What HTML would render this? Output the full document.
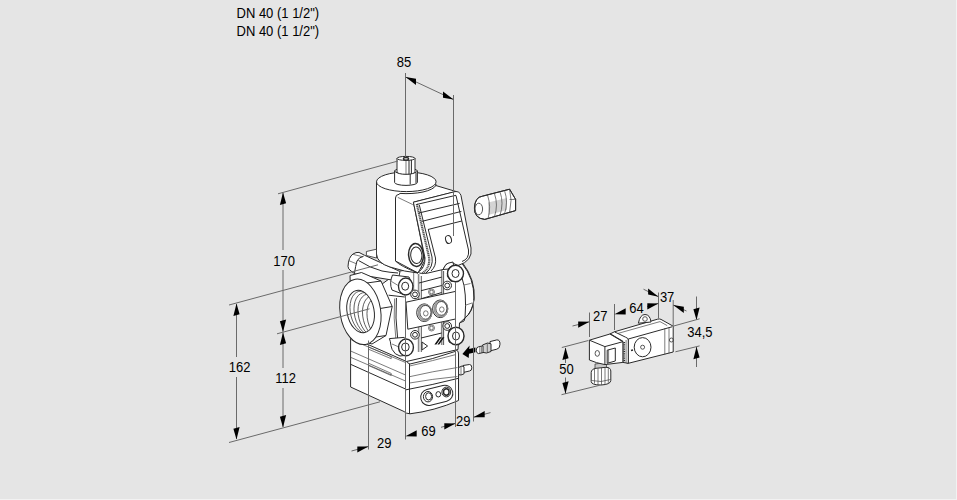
<!DOCTYPE html>
<html><head><meta charset="utf-8">
<style>
html,body{margin:0;padding:0;background:#e5e5e5;width:957px;height:500px;overflow:hidden}
.t{position:absolute;font:13px "Liberation Sans",sans-serif;color:#000;white-space:nowrap;line-height:15px;transform:scaleY(1.1);transform-origin:0 3px}
svg{position:absolute;left:0;top:0}
.d{stroke:#6a6a6a;stroke-width:1;fill:none}
.v{stroke:#2a2a2a;stroke-width:1;fill:#fff;stroke-linejoin:round}
.n{stroke:#2a2a2a;stroke-width:1;fill:none}
.g{stroke:#444;stroke-width:0.7;fill:none}
</style></head><body>
<svg width="957" height="500" viewBox="0 0 957 500">
<g id="valve">
<!-- lower box -->
<path class="v" d="M350.6,339 Q350.6,336.8 353,337 L405.5,359.3 Q430,354.5 454,349.6 Q458.5,349.5 458.5,354 L458.5,400.5 Q434,411 410,413.8 Q405.5,413.5 404,411.5 L350.6,387 Z"/>
<path class="g" d="M351.3,339.8 L405.5,362.5"/>
<path class="n" d="M405.8,359.5 Q407,363.6 410,364 Q432,359.5 455,351.5"/>
<path class="n" d="M409.5,364 L409.5,413.8"/>
<path class="g" d="M409.6,366 Q432,361 456,354.5"/>
<path class="g" d="M409.6,376.7 Q432,371.5 457.5,367.5"/>
<path class="g" d="M409.6,383 Q432,379 457.5,376.5"/>
<path class="n" d="M406,389.8 Q432,385 458.5,378.3"/>
<path class="g" d="M350.6,351 L405.5,375"/>
<path class="g" d="M350.6,357.3 L405.5,381"/>
<path class="n" d="M350.6,364.3 L405.5,389"/>
<path class="g" d="M368,346.8 L391.2,356.6 L391.2,358.7 L368,349 M368,363 L391.2,373.4 L391.2,375.5 L368,365.3"/>
<rect class="v" x="420.5" y="387.2" width="32.6" height="16.2" rx="8" ry="8" transform="rotate(-14 436.8 395.3)"/>
<ellipse class="v" cx="428" cy="396.7" rx="4.6" ry="5.2"/>
<ellipse class="n" cx="428.6" cy="396.4" rx="3" ry="3.6"/>
<ellipse class="n" cx="438.3" cy="394.3" rx="2.4" ry="2.7"/>
<ellipse class="v" cx="446.3" cy="392" rx="4.4" ry="4.9"/>
<ellipse class="n" cx="446.3" cy="392" rx="2.8" ry="3.2" style="stroke-width:1.4"/>
<!-- body block -->
<path class="v" d="M400,271 L462,262 Q476,280 474,300 Q472,312 465,318 L459.5,323 L458,349.5 L406.5,361.5 L351,337 L360,300 Z"/>
<!-- right flange curves -->
<path class="n" d="M462,263.5 Q474,278 474,298 Q473,312 465,318 L464,321 L459.5,323"/>
<path class="n" d="M462,278 Q467,292 465,318"/>
<path class="g" d="M464,285 L470.5,283.5 M466,305 L472,303"/>
<!-- vertical strips -->
<path class="n" d="M405.5,295 L405.5,340"/>
<path d="M418.6,274 L418.6,352 M441.7,270 L441.7,345" style="stroke:#8a8a8a;stroke-width:1.6;fill:none"/>
<path class="n" d="M421.3,276 L421.3,352 M443.6,271 L443.6,345" style="stroke-width:0.8"/>
<path class="g" d="M413.7,272 L413.7,290"/>
<path class="n" d="M419,283 L441.7,277.1 M421,290.7 L441.7,285.5 M421,298.8 L441.7,292.5 M421,322.5 L441.7,317.5 M421,338 L441.7,333"/>
<!-- plate -->
<path class="v" d="M406,302.2 L455.5,291.4 L455.5,319 L407.8,329.2 Z"/>
<!-- left lug -->
<path class="v" d="M348,266.4 Q348.5,257 353,254 Q356,252 359,252.4 L364.4,255.2 L400,271.5 L398,281 L355,274 L351,271 Q348,269 348,266.4 Z"/>
<path class="n" d="M363.6,256.2 Q358.5,257.5 357,261 Q355.5,266 354.5,273"/>
<path class="g" d="M349.2,260.8 L356,263.6 M353.2,254.4 L363,256.8"/>
<path class="n" d="M358.5,260.5 Q370,268 382,271 Q390,272.5 398,273"/>
<!-- hex nut -->
<path class="v" d="M350,275.5 L361.5,272.5 L381,281 L392.2,306.5 L386,335.5 L372,344 L352,338 Z"/>
<path class="n" d="M367,283 L381,281 M377,309 L392.2,306.5 M369,338 L386,335.5"/>
<!-- port ring -->
<ellipse class="v" cx="360.4" cy="311.8" rx="20.3" ry="33" transform="rotate(-9 360.4 311.8)"/>
<clipPath id="hole"><ellipse cx="360.6" cy="311.5" rx="13.5" ry="21.5" transform="rotate(-11 360.6 311.5)"/></clipPath>
<ellipse class="v" cx="360.6" cy="311.5" rx="13.5" ry="21.5" transform="rotate(-11 360.6 311.5)"/>
<g clip-path="url(#hole)" class="n" style="stroke-width:0.7">
<ellipse cx="364.1" cy="312.7" rx="13.5" ry="22" transform="rotate(-14 364.1 312.7)"/>
<ellipse cx="368.1" cy="314.1" rx="13.5" ry="22" transform="rotate(-14 368.1 314.1)"/>
<ellipse cx="372.1" cy="315.5" rx="13.5" ry="22" transform="rotate(-14 372.1 315.5)"/>
<ellipse cx="376.6" cy="317.1" rx="13.5" ry="22" transform="rotate(-14 376.6 317.1)"/>
<ellipse cx="381.1" cy="318.7" rx="13.5" ry="22" transform="rotate(-14 381.1 318.7)"/>
</g>
<!-- coil -->
<path class="v" d="M376.5,181.8 L376.5,254 Q377,263 390,267 Q405,272 418,273 L436,184 Z"/>
<path class="v" d="M366.4,251.5 L376.5,249.2 L376.5,258 L366.4,255.5 Z" style="stroke-width:0.8"/>
<ellipse class="v" cx="406.3" cy="181.8" rx="29.8" ry="9.8"/>
<!-- stem -->
<path class="v" d="M394.6,171 L394.6,182.4 A11.4,3 0 0 0 417.4,182.4 L417.4,171 Z"/>
<ellipse class="v" cx="406" cy="171" rx="11.4" ry="2.8"/>
<path class="n" d="M410.2,173.5 L410.2,184.5 M416,173 L416,183"/>
<path class="v" d="M397,158.4 L397,172 A9,2.3 0 0 0 415,172 L415,158.4 Z"/>
<ellipse class="v" cx="406" cy="158.4" rx="9" ry="2"/>
<ellipse class="n" cx="406" cy="158.8" rx="2.6" ry="1.3" style="stroke-width:1.3"/>
<path class="g" d="M406,160.5 L406,174"/>
<path class="n" d="M409,160 L409,174.5 M411.4,160 L411.4,174"/>
<!-- housing side and top -->
<path class="v" d="M395.5,198 Q395.5,194.6 399,194.3 L400,193.4 A29.8,9.8 0 0 0 435.8,185.5 L456,191.5 L413.4,202.2 L425,260 L418,273 L395.5,261 Z"/>
<path class="g" d="M397.8,197.4 L412.8,204.6"/>
<path class="n" d="M395.5,261 Q400,266 418,273"/>
<!-- gland hole in side -->
<ellipse class="v" cx="416" cy="255" rx="7.4" ry="11.5" transform="rotate(-4 416 255)" style="stroke-width:1.5"/>
<ellipse class="n" cx="416.3" cy="255.3" rx="5.6" ry="8.3" transform="rotate(-4 416.3 255.3)"/>
<!-- housing front face -->
<path class="v" d="M413.4,202.2 L455,191.6 Q459.5,191 461,195.5 L471,248 Q473,261 458,265.5 L452.5,263 L446,264.5 L443,269.5 L428,273 Q420,274.5 418.5,272 Q425,268 425,258 Z"/>
<path class="n" d="M416.8,204 L429,257 Q430.5,268 422,273.5" style="stroke-width:2.2;stroke:#555;stroke-dasharray:1.2 0.6"/>
<path class="n" d="M419.3,205 L432,257 Q433.5,267 426,273"/>
<path class="n" d="M428.3,229.5 L435.5,258 Q436.5,266 431,271"/>
<path class="n" d="M416.5,204.5 L456,195.3"/>
<path class="n" d="M456,195.5 L468.5,250 Q469.5,259 462,261.5"/>
<path class="n" d="M418.8,213 L459.6,203.4"/>
<path class="n" d="M421.8,221.4 L461.4,211.4"/>
<path class="n" d="M428,229.5 L461.8,221"/>
<path class="n" d="M446,264.5 L452.5,262.5 L452.5,270"/>
<ellipse class="n" cx="448.5" cy="239.5" rx="2.9" ry="4" transform="rotate(-15 448.5 239.5)"/>
<!-- columns -->
<path class="v" d="M394.6,297.3 L404.8,297 L405.5,338 L397.6,338 Q393,318 394.6,297.3 Z" style="stroke:none"/>
<path class="n" d="M388.6,295.2 L404.8,297"/>
<path class="n" d="M396.4,298 Q395,318 397.6,338"/>
<path class="g" d="M394.6,298.5 Q393.2,318 395.8,338"/>
<!-- bolts -->
<path class="v" d="M443,269.5 Q445.5,264 448,263.2 L453,262 L454,268.5 Z"/>
<path class="v" d="M392.5,275 L409,277 L413,286 L405,295 L392,290 Q389,283 392.5,275 Z"/>
<path class="g" d="M391.5,281.5 L399,286"/>
<ellipse class="v" cx="405.7" cy="286.5" rx="7.2" ry="8.5" style="stroke-width:1.3"/>
<ellipse class="n" cx="405.2" cy="286.2" rx="3.5" ry="4"/>
<path class="v" d="M447.5,276 Q447,268 452,266 L458,265.5 L463.5,272 L458,281.5 L451,281 Z" style="stroke-width:1.3"/>
<ellipse class="v" cx="455.5" cy="273.5" rx="8" ry="8.2" style="stroke-width:1.4"/>
<ellipse class="n" cx="455.5" cy="273.5" rx="3.5" ry="4"/>
<path class="v" d="M389.4,338.6 L404.2,337.4 L408,342 L404,355.5 L400,356 L395.4,353.8 Q391,349 391,345.8 Q390.5,341 389.4,338.6 Z"/>
<path class="g" d="M392,344 L399,347"/>
<ellipse class="v" cx="406" cy="347.4" rx="7.4" ry="8.4" style="stroke-width:1.4"/>
<ellipse class="n" cx="405.4" cy="347" rx="3.8" ry="4"/>
<path class="v" d="M449,330 L456,327 L464,336 L456,345 L449,342 Z"/>
<ellipse class="v" cx="456" cy="336" rx="8" ry="8.7" style="stroke-width:1.4"/>
<ellipse class="n" cx="456" cy="336" rx="3.5" ry="4"/>
<!-- small screws -->
<circle class="v" cx="415" cy="294.4" r="4.3"/><circle class="n" cx="415" cy="294.4" r="2.4"/>
<circle class="v" cx="447.2" cy="285.5" r="4.3"/><circle class="n" cx="447.2" cy="285.5" r="2.4"/>
<circle class="g" cx="431.5" cy="292" r="3"/><circle class="g" cx="431.5" cy="292" r="1.8"/>
<circle class="v" cx="415" cy="334.8" r="4.3"/><circle class="n" cx="415" cy="334.8" r="2.4"/>
<circle class="v" cx="447.2" cy="326" r="4.3"/><circle class="n" cx="447.2" cy="326" r="2.4"/>
<circle class="g" cx="431.5" cy="328" r="3"/><circle class="g" cx="431.5" cy="328" r="1.8"/>
<!-- knobs -->
<ellipse class="v" cx="424.3" cy="312.7" rx="7.6" ry="8.8"/><ellipse cx="425" cy="312.5" rx="6.6" ry="7.9" style="fill:none;stroke:#9a9a9a;stroke-width:1.6"/><ellipse class="n" cx="425.5" cy="312.3" rx="5.6" ry="6.9" style="stroke-width:0.8"/><ellipse class="g" cx="425.8" cy="313.4" rx="2.3" ry="2.6"/>
<ellipse class="v" cx="440.2" cy="308.8" rx="7.6" ry="8.8"/><ellipse cx="440.9" cy="308.6" rx="6.6" ry="7.9" style="fill:none;stroke:#9a9a9a;stroke-width:1.6"/><ellipse class="n" cx="441.4" cy="308.4" rx="5.6" ry="6.9" style="stroke-width:0.8"/><ellipse class="g" cx="441.8" cy="309.5" rx="2.3" ry="2.6"/>
<!-- triangle and slashes -->
<path class="n" d="M422,342 L427.6,346 L422,350 Z"/>
<path d="M434.4,344.5 L439.6,337.3 L441.6,337.3 L436.4,344.5 Z M437.4,344.5 L442.6,337.3 L444.4,337.3 L439.2,344.5 Z" fill="#111"/>
</g>
<g id="small">
<!-- main gland -->
<path class="v" d="M482.4,196.2 L509.6,189.2 L515.6,199.4 L515.6,210.6 L484.8,219.4 Q474.4,218.5 474.4,208 Q475,197 482.4,196.2 Z"/>
<path d="M488,202.5 L507,198 L507,210 L488,215 Z" fill="#d4d4d4"/>
<path class="g" d="M487.5,195 Q491.5,207 488,218.5 M494.4,193.4 Q498.5,205 494.4,216.8 M500,191.8 Q504,203 500,215.3 M504.5,190.6 Q508.5,202 504.5,214 M509.6,189.2 Q512.5,200 509.6,212.3 M509.6,199.5 L515.6,199.4"/>
<path class="n" d="M482.4,196.2 L509.6,189.2 L515.6,199.4 L515.6,210.6 L484.8,219.4 Q474.4,218.5 474.4,208 Q475,197 482.4,196.2 Z"/>
<ellipse class="g" cx="478.8" cy="209" rx="3.8" ry="5.8" style="stroke-width:0.9"/>
<!-- test nipple with arrow -->
<path class="v" d="M490,341.6 L496.8,339.9 Q500,339.6 500,344.2 Q500,348.6 496.8,349.2 L490,350.9 Z"/>
<path class="v" d="M482.5,345 L487.5,343 L491,343.8 L491,351.5 L486.5,353 L482.5,352.3 Z" style="fill:#d0d0d0"/>
<path class="g" d="M487.3,343.2 L487.3,352.8"/>
<path class="v" d="M478.5,346.8 L483,345.8 L483,352.6 L478.5,353.6 Q476.3,353.4 476.3,350.2 Q476.3,347 478.5,346.8 Z"/>
<path class="g" d="M479.8,346.6 L479.8,353.4 M481.4,346.2 L481.4,353"/>
<path d="M462.4,354 L469.6,345.4 L469.2,349 L475.4,347.6 L475.4,352.2 L469,353.8 L468.7,357.9 Z" fill="#000"/>
<!-- nipple on box -->
<path class="v" d="M463,365.5 L469.5,364.5 Q471.8,364.5 471.8,367.8 Q471.8,370.8 469.5,371 L463,372.5 Z"/>
<path class="v" d="M458.6,367.5 L462,366 L464,366.8 L464,373.8 L461,375 L458.6,374.6 Z"/>
<path class="g" d="M461,366.5 L461,374.8"/>
<!-- right solenoid -->
<!-- solenoid body -->
<path class="v" d="M614.4,331.8 L657.5,319.2 Q659.5,318.6 661,319.4 L673.2,326.2 L673.2,352 L628.3,363.3 L624.5,362 L624.5,341.5 Z"/>
<path class="g" d="M618,333.4 L660,321.6 L667.2,325.6"/>
<path class="n" d="M628.3,339 L672,326.8"/>
<path class="n" d="M628.3,339 L628.3,363.3"/>
<path class="g" d="M664.8,328.2 L664.8,354.5 M669,327.2 L669,353.4"/>
<ellipse class="n" cx="642.6" cy="347.2" rx="8.4" ry="9.6"/>
<circle class="g" cx="642.6" cy="347.2" r="2" style="stroke-width:0.9"/>
<circle class="g" cx="671.4" cy="340" r="2" style="stroke-width:0.9"/>
<path class="n" d="M631,350.5 L633,350" style="stroke-width:1.6"/>
<!-- lifting eye -->
<path class="v" d="M638.4,323.2 Q640,314.5 645,314.5 Q650,314.5 651,322 Z"/>
<circle class="g" cx="645" cy="319" r="2.3" style="stroke-width:0.9"/>
<!-- ribbed ring -->
<path class="v" d="M609.9,334 L614.4,331.8 L625.6,337.2 Q628.3,338 628.3,340 L628.3,363.3 L622.9,362.4 L622.9,341.7 Z"/>
<path class="n" d="M609.9,334 L622.9,341.7" style="stroke-width:1.5"/>
<path class="n" d="M624.3,342 L624.3,362" style="stroke-width:1.6;stroke-dasharray:1 0.8"/>
<path class="g" d="M626.1,340 L626.1,362.8"/>
<!-- gland on connector -->
<path class="v" d="M595,364 L606.5,362.5 L606.5,371 L595,372 Z" style="fill:#c8c8c8;stroke-width:0.7"/>
<path class="v" d="M591.2,372.5 Q591.4,369 596,368.3 L606,367.3 Q610.6,367.3 610.8,371 L610.8,380.5 Q610.6,384.5 601,385 Q591.4,385 591.2,381.5 Z"/>
<path class="g" d="M594.5,369 L594.5,383.5 M598,368.5 L598,384.5 M601.5,368 L601.5,384.8 M605,367.6 L605,384.3 M608.3,367.8 L608.3,383"/>
<path class="g" d="M591.5,380.5 Q601,383 610.6,379.5"/>
<!-- connector box -->
<path class="v" d="M589.4,340.2 L609.9,334 L622.9,341.7 L622.9,362.4 L604.9,364.6 Q596,363 589.4,360 Z"/>
<path class="n" d="M589.4,340.2 L604.9,346.6 L622.9,341.7 M604.9,346.6 L604.9,364.6"/>
<path class="n" d="M607.2,350.2 L615.3,348 L615.3,361 L607.2,363.3 Z"/>
<path class="g" d="M608.6,350 L608.6,363"/>
<ellipse class="g" cx="597.3" cy="353.4" rx="2.2" ry="2.9" style="stroke-width:0.9"/>
</g>
<g><line x1="405.5" y1="73" x2="405.5" y2="157" class="d"/><line x1="453.5" y1="95" x2="453.5" y2="236" class="d"/><line x1="405.5" y1="77" x2="453.5" y2="99.5" class="d"/><polygon points="405.5,77.0 416.0,85.0 416.0,78.8" fill="#000"/><polygon points="453.5,99.5 443.0,97.7 443.0,91.5" fill="#000"/><line x1="278" y1="193.8" x2="398" y2="161" class="d"/><line x1="283" y1="193" x2="283" y2="250" class="d"/><line x1="283" y1="270" x2="283" y2="368" class="d"/><line x1="283" y1="388" x2="283" y2="427" class="d"/><polygon points="283.0,192.5 286.1,203.2 279.9,205.0" fill="#000"/><polygon points="283.0,332.0 286.1,319.5 279.9,321.3" fill="#000"/><polygon points="283.0,332.5 286.1,343.2 279.9,345.0" fill="#000"/><polygon points="283.0,427.5 286.1,415.0 279.9,416.8" fill="#000"/><line x1="277" y1="333.8" x2="369.5" y2="308.8" class="d"/><line x1="229" y1="305" x2="378" y2="264.8" class="d"/><line x1="236.5" y1="304" x2="236.5" y2="357" class="d"/><line x1="236.5" y1="377" x2="236.5" y2="439" class="d"/><polygon points="236.5,303.5 239.6,314.2 233.4,316.0" fill="#000"/><polygon points="236.5,439.5 239.6,427.0 233.4,428.8" fill="#000"/><line x1="229" y1="442.5" x2="380" y2="401.8" class="d"/><line x1="368.5" y1="340.5" x2="368.5" y2="449.5" class="d"/><line x1="405.5" y1="295" x2="405.5" y2="439.5" class="d"/><line x1="455.5" y1="282" x2="455.5" y2="427" class="d"/><line x1="473.5" y1="300" x2="473.5" y2="421.5" class="d"/><line x1="351.5" y1="451" x2="368.5" y2="446.5" class="d"/><polygon points="368.5,446.5 357.3,452.6 357.3,446.4" fill="#000"/><polygon points="405.5,436.3 416.7,436.4 416.7,430.2" fill="#000"/><line x1="441" y1="427.3" x2="455.5" y2="423.4" class="d"/><polygon points="455.5,423.4 444.3,429.5 444.3,423.3" fill="#000"/><line x1="473.5" y1="417.2" x2="490.5" y2="412.6" class="d"/><polygon points="473.5,417.2 484.7,417.3 484.7,411.1" fill="#000"/><line x1="589.5" y1="312.5" x2="589.5" y2="337" class="d"/><line x1="614.5" y1="304" x2="614.5" y2="330" class="d"/><line x1="658.5" y1="292.5" x2="658.5" y2="318.5" class="d"/><line x1="673.2" y1="300" x2="673.2" y2="327" class="d"/><line x1="572.5" y1="326" x2="589.5" y2="321.8" class="d"/><polygon points="589.5,321.8 578.2,327.7 578.2,321.5" fill="#000"/><polygon points="614.5,314.3 625.7,314.4 625.7,308.2" fill="#000"/><line x1="647" y1="306.5" x2="658.5" y2="303.4" class="d"/><polygon points="658.5,303.4 647.3,309.5 647.3,303.3" fill="#000"/><line x1="643.5" y1="289.2" x2="658.5" y2="296.7" class="d"/><polygon points="658.5,296.7 648.1,294.6 648.1,288.4" fill="#000"/><line x1="673.2" y1="305" x2="686.5" y2="311" class="d"/><polygon points="673.2,305.0 683.8,312.9 683.8,306.7" fill="#000"/><line x1="696.5" y1="296.5" x2="696.5" y2="320" class="d"/><polygon points="696.5,320.0 699.6,307.5 693.4,309.3" fill="#000"/><line x1="673.7" y1="326" x2="699.6" y2="318.8" class="d"/><line x1="675.4" y1="351.8" x2="699.6" y2="345.9" class="d"/><line x1="696.5" y1="347" x2="696.5" y2="367" class="d"/><polygon points="696.5,346.8 699.6,357.5 693.4,359.3" fill="#000"/><line x1="561.8" y1="347.5" x2="588.4" y2="340.5" class="d"/><line x1="561.5" y1="394.7" x2="599.6" y2="385.3" class="d"/><line x1="565.5" y1="348" x2="565.5" y2="363" class="d"/><line x1="565.5" y1="377.5" x2="565.5" y2="393.5" class="d"/><polygon points="565.5,347.5 568.6,358.2 562.4,360.0" fill="#000"/><polygon points="565.5,393.8 568.6,381.3 562.4,383.1" fill="#000"/></g><rect x="956" y="0" width="1" height="500" fill="#f2f2f2"/><rect x="0" y="499" width="957" height="1" fill="#f2f2f2"/></svg>
<div class="t" style="left:236.5px;top:4.9px">DN 40 (1 1/2")</div>
<div class="t" style="left:236.5px;top:23.1px">DN 40 (1 1/2")</div>
<div class="t" style="left:396.8px;top:53.7px">85</div>
<div class="t" style="left:273.2px;top:252.9px">170</div>
<div class="t" style="left:228.8px;top:358.5px">162</div>
<div class="t" style="left:275.2px;top:369.5px">112</div>
<div class="t" style="left:377px;top:434.5px">29</div>
<div class="t" style="left:421.3px;top:422.9px">69</div>
<div class="t" style="left:456px;top:412.7px">29</div>
<div class="t" style="left:593px;top:308.3px">27</div>
<div class="t" style="left:629.3px;top:299.9px">64</div>
<div class="t" style="left:659.9px;top:288.6px">37</div>
<div class="t" style="left:687.3px;top:324px">34,5</div>
<div class="t" style="left:559.2px;top:360.8px">50</div>
</body></html>
